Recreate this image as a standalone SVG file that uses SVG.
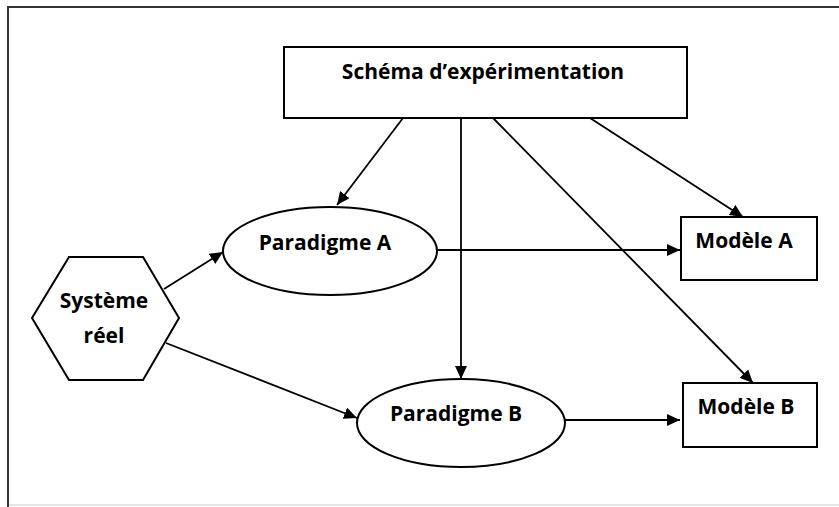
<svg xmlns="http://www.w3.org/2000/svg" width="839" height="507" viewBox="0 0 839 507">
  <style>
    .shape { fill: #ffffff; stroke: #000000; stroke-width: 2; }
    .lbl { font-family: "Open Sans", "Liberation Sans", sans-serif; font-weight: 700; font-size: 21px; fill: #000000; }
    .conn { stroke: #000000; stroke-width: 1.8; fill: none; marker-end: url(#arrow); }
  </style>
  <defs>
    <marker id="arrow" markerUnits="userSpaceOnUse" markerWidth="14" markerHeight="12" refX="13" refY="6" orient="auto">
      <path d="M0,0 L13,6 L0,12 Z" fill="#000000"/>
    </marker>
  </defs>
  <rect x="0" y="0" width="839" height="507" fill="#ffffff"/>
  <g id="frame">
    <path d="M8,507 L8,7 L839,7" fill="none" stroke="#333333" stroke-width="2"/>
    <path d="M9,505 L839,505" fill="none" stroke="#dddddd" stroke-width="1.5"/>
  </g>
  <g id="connectors">
    <line class="conn" x1="403" y1="118" x2="337" y2="205"/>
    <line class="conn" x1="461" y1="118" x2="461" y2="379"/>
    <line class="conn" x1="493" y1="118" x2="753" y2="383"/>
    <line class="conn" x1="590" y1="118" x2="743" y2="217"/>
    <line class="conn" x1="164" y1="289" x2="223" y2="252"/>
    <line class="conn" x1="166" y1="343" x2="357" y2="418"/>
    <line class="conn" x1="438" y1="250" x2="680" y2="250"/>
    <line class="conn" x1="564" y1="420" x2="680" y2="420"/>
  </g>
  <g id="schema">
    <rect class="shape" x="284" y="47" width="403" height="71"/>
    <text class="lbl" x="483" y="79" text-anchor="middle">Schéma d’expérimentation</text>
  </g>
  <g id="systeme">
    <polygon class="shape" points="32,318 69,257 143,257 179,318 143,380 69,380"/>
    <text class="lbl" x="104" y="308" text-anchor="middle">Système</text>
    <text class="lbl" x="104" y="343" text-anchor="middle">réel</text>
  </g>
  <g id="paradigmeA">
    <ellipse class="shape" cx="330" cy="251" rx="107" ry="44"/>
    <text class="lbl" x="325" y="250" text-anchor="middle">Paradigme A</text>
  </g>
  <g id="paradigmeB">
    <ellipse class="shape" cx="461" cy="423" rx="104" ry="44"/>
    <text class="lbl" x="456" y="421" text-anchor="middle">Paradigme B</text>
  </g>
  <g id="modeleA">
    <rect class="shape" x="681" y="217" width="136" height="63"/>
    <text class="lbl" x="744" y="248" text-anchor="middle">Modèle A</text>
  </g>
  <g id="modeleB">
    <rect class="shape" x="683" y="383" width="134" height="64"/>
    <text class="lbl" x="746" y="414" text-anchor="middle">Modèle B</text>
  </g>
</svg>
